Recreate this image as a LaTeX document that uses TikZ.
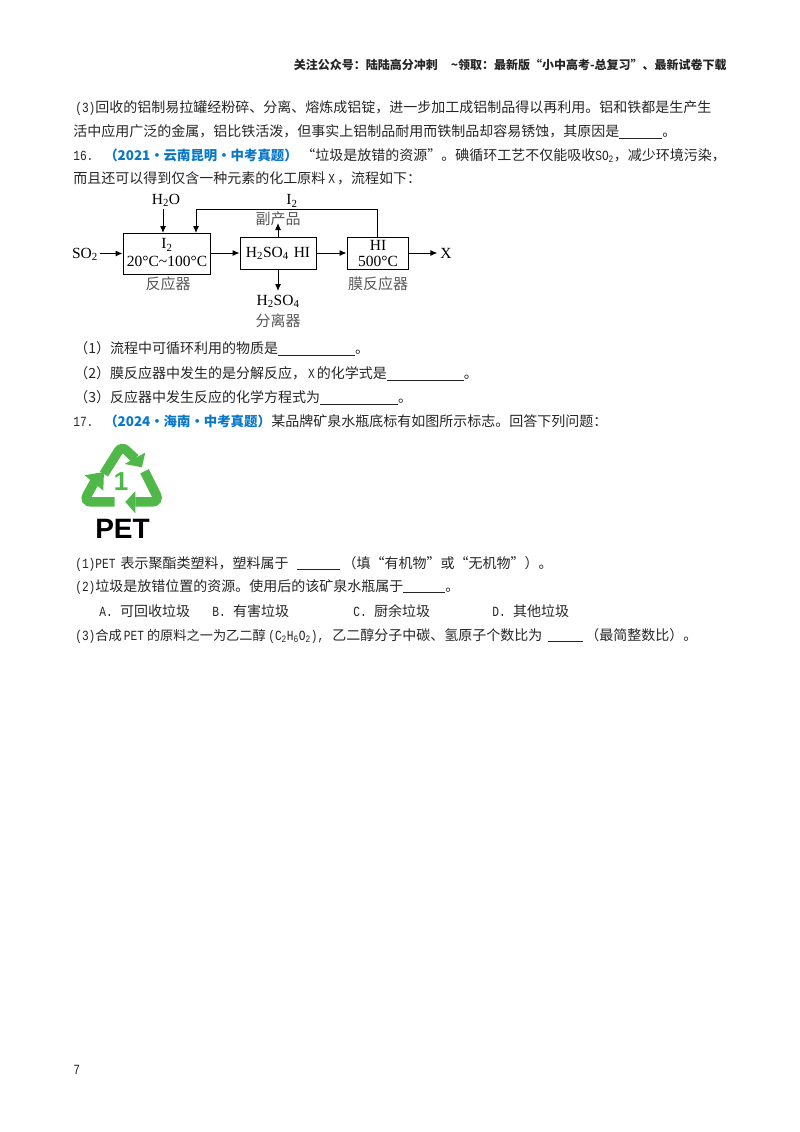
\documentclass[tikz,border=0pt]{standalone}
\usepackage{fontspec}
\setmainfont{Noto Sans CJK SC}
\newfontfamily\mono[FakeStretch=0.8]{Liberation Mono}
\newfontfamily\tnr{Liberation Serif}
\newfontfamily\arl{Liberation Sans}
\usetikzlibrary{positioning, calc, arrows.meta}
\tikzset{>=latex}
\definecolor{mygreen}{HTML}{50B848}
\definecolor{myblue}{HTML}{0A78C8}
\newcommand{\lat}[1]{{\mono\fontsize{14}{14}\selectfont #1}}
\newcommand{\blank}[1]{\underline{\hspace{#1}}}
\begin{document}
\begin{tikzpicture}[x=1pt,y=1pt,semithick]
  \tikzstyle{line}=[anchor=base west,inner sep=0pt,font=\fontsize{14}{16}\selectfont,text=black!85]
  \tikzstyle{src}=[line,text=myblue,font=\bfseries\fontsize{13.4}{16}\selectfont]
  \tikzstyle{box}=[draw,rectangle,line width=1pt,inner sep=0pt]
  \tikzstyle{chem}=[inner sep=0pt,align=center,font=\tnr\fontsize{15.5}{16}\selectfont]
  \tikzstyle{zh}=[inner sep=0pt,font=\fontsize{15}{16}\selectfont,text=black!65]
  \tikzstyle{flow}=[->,>={Latex[length=7pt,width=6pt]},line width=1pt]
  \useasboundingbox (0,0) rectangle (800,-1132);
  \fill[white] (0,0) rectangle (800,-1132);

  \node[line,anchor=base east,font=\bfseries\fontsize{12}{14}\selectfont] (head) at (727,-69.5) {关注公众号：陆陆高分冲刺\hspace{13pt}\textasciitilde 领取：最新版“小中高考-总复习”、最新试卷下载};

  \node[line] (l1) at (75,-112.5) {\lat{(3)}回收的铝制易拉罐经粉碎、分离、熔炼成铝锭，进一步加工成铝制品得以再利用。铝和铁都是生产生};
  \node[line] (l2) at (73,-136.5) {活中应用广泛的金属，铝比铁活泼，但事实上铝制品耐用而铁制品却容易锈蚀，其原因是\blank{43pt}。};
  \node[line] (l3) at (73,-160.5) {\lat{16.}};
  \node[src] (l3src) at (104,-160.5) {（2021·云南昆明·中考真题）};
  \node[line] (l3txt) at (301,-160.5) {“垃圾是放错的资源”。碘循环工艺不仅能吸收\lat{SO\textsubscript{2}}，减少环境污染，};
  \node[line] (l4) at (73,-183.5) {而且还可以得到仅含一种元素的化工原料\hspace{3pt}\lat{X}\hspace{2pt}，流程如下：};

  % flow chart
  \node[box,minimum width=87pt,minimum height=41pt] (reactor) at (166.5,-253.5) {};
  \node[box,minimum width=76pt,minimum height=32pt] (sep) at (278,-253) {};
  \node[box,minimum width=61pt,minimum height=32pt] (memb) at (377.5,-253) {};
  \node[chem] (i2a) at (167,-245) {I\textsubscript{2}};
  \node[chem] (temp1) at (167,-261) {20°C\textasciitilde 100°C};
  \node[chem] (mix) at (278,-253) {H\textsubscript{2}SO\textsubscript{4}\hspace{5pt}HI};
  \node[chem] (hi) at (378,-245) {HI};
  \node[chem] (temp2) at (378,-261) {500°C};
  \node[chem,outer sep=2pt] (so2) at (85,-254) {SO\textsubscript{2}};
  \node[chem] (h2o) at (166,-200) {H\textsubscript{2}O};
  \node[chem] (i2b) at (292,-201) {I\textsubscript{2}};
  \node[chem,outer sep=3pt] (x) at (446,-253) {X};
  \node[chem] (h2so4) at (278,-301) {H\textsubscript{2}SO\textsubscript{4}};
  \node[zh] (byprod) at (278,-219) {副产品};
  \node[zh] (name1) at (168,-284) {反应器};
  \node[zh] (name2) at (278,-321) {分离器};
  \node[zh] (name3) at (378,-284) {膜反应器};
  \coordinate (h2oin) at (163,-233);
  \coordinate (h2ofrom) at (163,-209);
  \coordinate (backin) at (196,-233);
  \coordinate (backtop) at (196,-209);
  \coordinate (byin) at (278,-223);
  \coordinate (acidin) at (278,-291);

  \draw[flow] (so2.east |- reactor.west) -- (reactor.west);
  \draw[flow] (h2ofrom) -- (h2oin);
  \draw[flow] (reactor.east |- sep.west) -- (sep.west);
  \draw[flow] (sep.east) -- (memb.west);
  \draw[flow] (memb.east) -- (x.west);
  \draw[flow] (sep.north) -- (byin);
  \draw[flow] (sep.south) -- (acidin);
  \draw[flow] (memb.north) |- (backtop) -- (backin);

  \node[line] (q1) at (74,-353.5) {（1）流程中可循环利用的物质是\blank{77pt}。};
  \node[line] (q2) at (74,-378.5) {（2）膜反应器中发生的是分解反应，\hspace{2pt}\lat{X}\hspace{2pt}的化学式是\blank{77pt}。};
  \node[line] (q3) at (74,-402.5) {（3）反应器中发生反应的化学方程式为\blank{78pt}。};
  \node[line] (q17) at (73,-426.5) {\lat{17.}};
  \node[src] (q17src) at (104,-426.5) {（2024·海南·中考真题）};
  \node[line] (q17txt) at (271,-426.5) {某品牌矿泉水瓶底标有如图所示标志。回答下列问题：};

  % recycling mark
  \begin{scope}[shift={(60,-430)},x=0.333pt,y=-0.333pt]
    \draw[mygreen,line width=9.5pt,rounded corners=6pt] (132,132) -- (185,48) -- (226,86);
    \fill[mygreen] (256,68) -- (246,112) -- (194,102) -- cycle;
    \draw[mygreen,line width=9.5pt,rounded corners=8pt] (254,124) -- (300,216) -- (226,216);
    \fill[mygreen] (196,216) -- (226,184) -- (226,250) -- cycle;
    \draw[mygreen,line width=9.5pt,rounded corners=8pt] (164,216) -- (70,216) -- (106,152);
    \fill[mygreen] (74,136) -- (132,126) -- (130,182) -- cycle;
  \end{scope}
  \node[inner sep=0pt,text=mygreen,font=\arl\bfseries\fontsize{26}{26}\selectfont] (one) at (121,-482) {1};
  \node[inner sep=0pt,font=\arl\bfseries\fontsize{28}{28}\selectfont] (pet) at (122.5,-529) {PET};

  \node[line] (p1) at (75,-568) {\lat{(1)PET}\hspace{5pt}表示聚酯类塑料，塑料属于\hspace{8pt}\blank{43pt}\hspace{3pt}（填“有机物”或“无机物”）。};
  \node[line] (p2) at (75,-591) {\lat{(2)}垃圾是放错位置的资源。使用后的该矿泉水瓶属于\blank{42pt}。};
  \node[line] (a) at (99,-616) {\lat{A.}\hspace{7.5pt}可回收垃圾};
  \node[line] (b) at (212,-616) {\lat{B.}\hspace{7.5pt}有害垃圾};
  \node[line] (c) at (353,-616) {\lat{C.}\hspace{7.5pt}厨余垃圾};
  \node[line] (d) at (492,-616) {\lat{D.}\hspace{7.5pt}其他垃圾};
  \node[line,font=\fontsize{13.2}{16}\selectfont] (p3) at (75,-640) {\lat{(3)}合成\hspace{2pt}\lat{PET}\hspace{3pt}的原料之一为乙二醇};
  \node[line] (p3mid) at (268,-640) {\lat{(C\textsubscript{2}H\textsubscript{6}O\textsubscript{2}),}};
  \node[line] (p3end) at (332,-640) {乙二醇分子中碳、氢原子个数比为\hspace{6pt}\blank{35pt}\hspace{2pt}（最简整数比）。};
  \node[line] (page) at (73,-1074) {\lat{7}};
\end{tikzpicture}
\end{document}
